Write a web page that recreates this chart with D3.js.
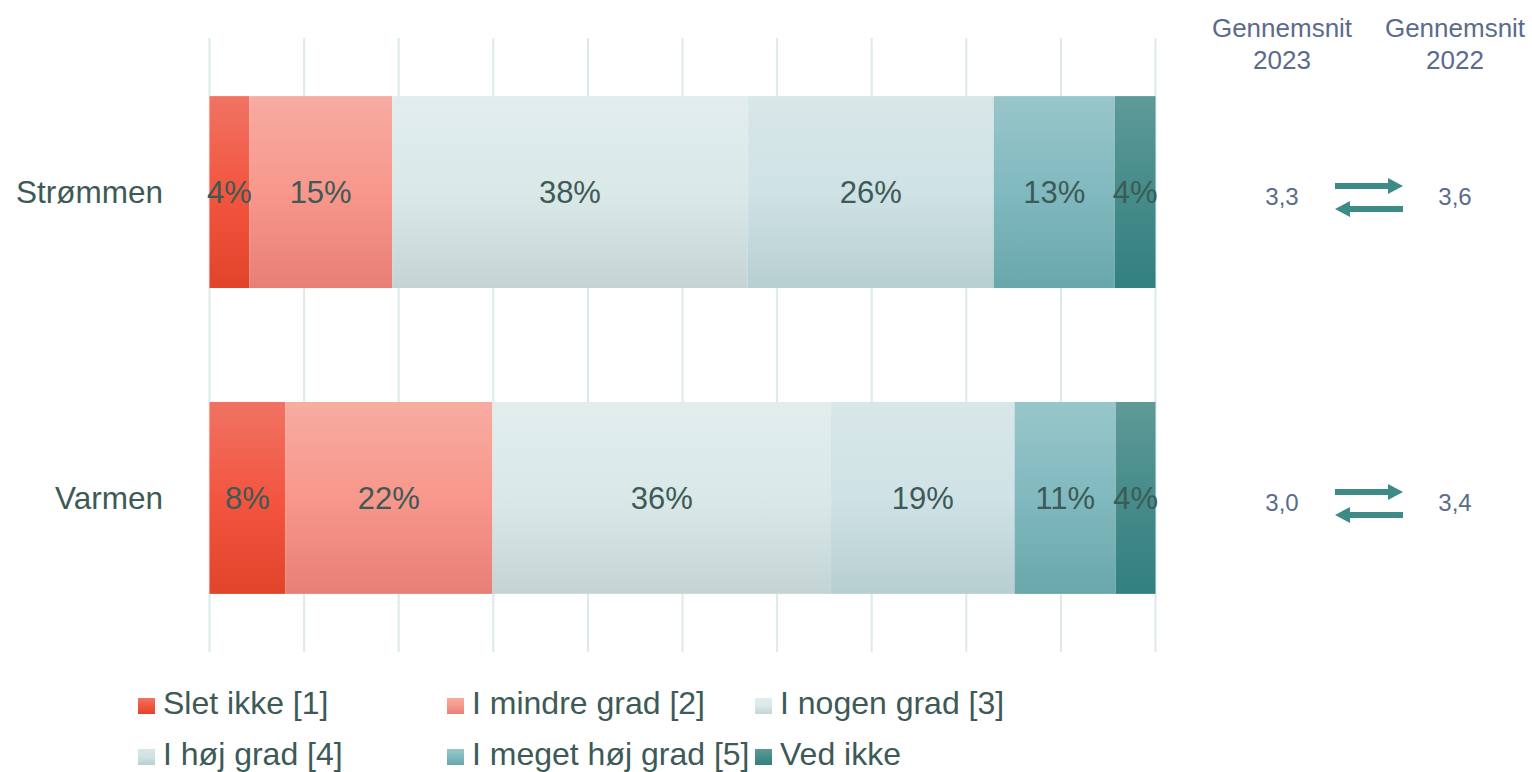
<!DOCTYPE html>
<html>
<head>
<meta charset="utf-8">
<script src="https://cdn.jsdelivr.net/npm/d3@7"></script>
<style>
  body { margin: 0; background: #fff; }
  svg { display: block; font-family: Arial, "Liberation Sans", sans-serif; }
</style>
</head>
<body>
<script>
// categories and answer levels
var categories = ['Strømmen', 'Varmen'];
var levels = ['Slet ikke [1]', 'I mindre grad [2]', 'I nogen grad [3]', 'I høj grad [4]', 'I meget høj grad [5]', 'Ved ikke'];

// share per level (percent), one array per category
var strommen = [4.2, 15.1, 37.6, 26.0, 12.8, 4.3];
var varmen = [8.0, 21.9, 35.8, 19.4, 10.7, 4.2];

// averages
var avg2023 = [3.3, 3.0];
var avg2022 = [3.6, 3.4];
var avgHeaders = [['Gennemsnit', '2023'], ['Gennemsnit', '2022']];

var xTicks = [0, 10, 20, 30, 40, 50, 60, 70, 80, 90, 100];

// gradient stops per level: top, middle, bottom
var colors = [
  ['#f07363', '#f3553f', '#e2432b'],
  ['#f7aca2', '#f8978b', '#e77f77'],
  ['#e2eeee', '#dae8e8', '#c4d4d4'],
  ['#d8e7e8', '#cfe2e5', '#b7cfd1'],
  ['#98c6ca', '#80b9bf', '#69a7aa'],
  ['#5e9a98', '#468c8a', '#338080']
];

var width = 1532, height = 772;
var textCol = '#3d5a57', headCol = '#5b6b8c', arrowCol = '#3d8a86';

var svg = d3.select('body').append('svg')
  .attr('width', width)
  .attr('height', height);

var defs = svg.append('defs');
colors.forEach(function(c, i) {
  var g = defs.append('linearGradient')
    .attr('id', 'grad' + i)
    .attr('x1', 0).attr('y1', 0).attr('x2', 0).attr('y2', 1);
  g.append('stop').attr('offset', '0%').attr('stop-color', c[0]);
  g.append('stop').attr('offset', '50%').attr('stop-color', c[1]);
  g.append('stop').attr('offset', '100%').attr('stop-color', c[2]);
});

var x = d3.scaleLinear().domain([0, 100]).range([209.5, 1155.5]);
var y = d3.scaleBand().domain(categories).range([38, 652])
  .paddingInner(0.3725).paddingOuter(0.19);

// gridlines
svg.append('g').selectAll('line')
  .data(xTicks)
  .join('line')
  .attr('x1', function(d) { return x(d); })
  .attr('x2', function(d) { return x(d); })
  .attr('y1', 38).attr('y2', 652)
  .attr('stroke', '#dde9ea')
  .attr('stroke-width', 2);

// stack the data
var rows = categories.map(function(c, i) {
  var vals = i === 0 ? strommen : varmen;
  var acc = 0;
  return vals.map(function(v, j) {
    var seg = { cat: c, level: j, v: v, x0: acc, x1: acc + v };
    acc += v;
    return seg;
  });
});
var segs = [].concat.apply([], rows);

svg.append('g').selectAll('rect')
  .data(segs)
  .join('rect')
  .attr('x', function(d) { return x(d.x0); })
  .attr('width', function(d) { return x(d.x1) - x(d.x0); })
  .attr('y', function(d) { return y(d.cat); })
  .attr('height', y.bandwidth())
  .attr('fill', function(d) { return 'url(#grad' + d.level + ')'; });

svg.append('g').selectAll('text')
  .data(segs)
  .join('text')
  .attr('x', function(d) { return (x(d.x0) + x(d.x1)) / 2; })
  .attr('y', function(d) { return y(d.cat) + y.bandwidth() / 2; })
  .attr('dy', '0.36em')
  .attr('text-anchor', 'middle')
  .attr('font-size', 31)
  .attr('fill', textCol)
  .text(function(d) { return Math.round(d.v) + '%'; });

// category labels
svg.append('g').selectAll('text')
  .data(categories)
  .join('text')
  .attr('x', 163)
  .attr('y', function(d) { return y(d) + y.bandwidth() / 2; })
  .attr('dy', '0.35em')
  .attr('text-anchor', 'end')
  .attr('font-size', 31.5)
  .attr('fill', textCol)
  .text(function(d) { return d; });

// averages
var fmt = d3.formatLocale({ decimal: ',', thousands: '.', grouping: [3], currency: ['', ''] }).format('.1f');
var avgX = [1282, 1455];

avgHeaders.forEach(function(h, i) {
  var t = svg.append('text')
    .attr('text-anchor', 'middle')
    .attr('font-size', 26)
    .attr('fill', headCol);
  t.append('tspan').attr('x', avgX[i]).attr('y', 37).text(h[0]);
  t.append('tspan').attr('x', avgX[i]).attr('y', 69).text(h[1]);
});

[avg2023, avg2022].forEach(function(arr, i) {
  svg.append('g').selectAll('text')
    .data(arr)
    .join('text')
    .attr('x', avgX[i])
    .attr('y', function(d, j) { return y(categories[j]) + y.bandwidth() / 2 + 5; })
    .attr('dy', '0.35em')
    .attr('text-anchor', 'middle')
    .attr('font-size', 24)
    .attr('fill', headCol)
    .text(function(d) { return fmt(d); });
});

// two-way arrows
function arrow(g, x0, x1, yy) {
  var dir = x1 > x0 ? 1 : -1;
  var hx = x1 - dir * 15;
  g.append('path')
    .attr('d', 'M' + x0 + ',' + (yy - 3) + 'L' + hx + ',' + (yy - 3) + 'L' + hx + ',' + (yy - 8) +
      'L' + x1 + ',' + yy + 'L' + hx + ',' + (yy + 8) + 'L' + hx + ',' + (yy + 3) + 'L' + x0 + ',' + (yy + 3) + 'Z')
    .attr('fill', arrowCol);
}
categories.forEach(function(c) {
  var cy = y(c) + y.bandwidth() / 2;
  var g = svg.append('g');
  arrow(g, 1335, 1403, cy - 6);
  arrow(g, 1403, 1335, cy + 17);
});

// legend
var legend = svg.append('g');
var legX = [138, 447, 755], legY = [714, 765];
levels.forEach(function(l, i) {
  var col = i % 3, row = Math.floor(i / 3);
  legend.append('rect')
    .attr('x', legX[col]).attr('y', legY[row] - 16)
    .attr('width', 17).attr('height', 16)
    .attr('fill', 'url(#grad' + i + ')');
  legend.append('text')
    .attr('x', legX[col] + 25).attr('y', legY[row])
    .attr('font-size', 32)
    .attr('fill', textCol)
    .text(l);
});
</script>
</body>
</html>
